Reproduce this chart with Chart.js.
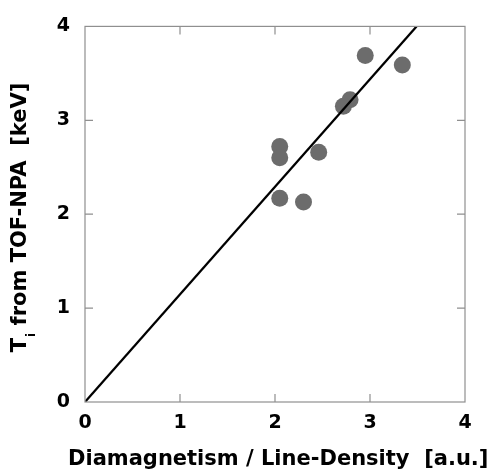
<!DOCTYPE html>
<html>
<head>
<meta charset="utf-8">
<script src="https://cdn.jsdelivr.net/npm/chart.js@4.4.1/dist/chart.umd.min.js"></script>
<style>
  html, body { margin: 0; padding: 0; background: #fff; }
  #wrap { width: 490px; height: 471px; }
</style>
</head>
<body>
<div id="wrap"><canvas id="tiChart" width="490" height="471"></canvas></div>
<script>
// measured shots: diamagnetic estimate vs. ion temperature from TOF-NPA
var diaValues = [2.95, 3.34, 2.79, 2.72, 2.05, 2.05, 2.46, 2.05, 2.30];
var tiValues  = [3.69, 3.59, 3.22, 3.15, 2.72, 2.60, 2.66, 2.17, 2.13];

// reference proportionality line
var fitX = [0, 3.49];
var fitY = [0, 4];

var axisTicks = [0, 1, 2, 3, 4];
var xTitle = 'Diamagnetism / Line-Density  [a.u.]';
var yTitleMain = 'T';
var yTitleSub = 'i';
var yTitleRest = ' from TOF-NPA  [keV]';

var FONT = '"DejaVu Sans", "Liberation Sans", Arial, sans-serif';

function toPoints(xs, ys) {
	var pts = [];
	for (var i = 0; i < xs.length; i++) {
		pts.push({ x: xs[i], y: ys[i] });
	}
	return pts;
}

// box frame with inward ticks on all four sides, plus the axis titles
var framePlugin = {
	id: 'frame',
	afterDatasetsDraw: function(chart) {
		var ctx = chart.ctx;
		var a = chart.chartArea;
		var xs = chart.scales.x, ys = chart.scales.y;
		var tl = 8;
		ctx.save();
		ctx.strokeStyle = '#8f8f8f';
		ctx.lineWidth = 1.2;
		ctx.strokeRect(a.left, a.top, a.right - a.left, a.bottom - a.top);
		ctx.beginPath();
		for (var i = 1; i < axisTicks.length - 1; i++) {
			var px = xs.getPixelForValue(axisTicks[i]);
			ctx.moveTo(px, a.bottom); ctx.lineTo(px, a.bottom - tl);
			ctx.moveTo(px, a.top); ctx.lineTo(px, a.top + tl);
			var py = ys.getPixelForValue(axisTicks[i]);
			ctx.moveTo(a.left, py); ctx.lineTo(a.left + tl, py);
			ctx.moveTo(a.right, py); ctx.lineTo(a.right - tl, py);
		}
		ctx.stroke();
		ctx.restore();
	},
	afterDraw: function(chart) {
		var ctx = chart.ctx;
		ctx.save();
		ctx.fillStyle = '#000';
		ctx.font = 'bold 21px ' + FONT;
		ctx.textBaseline = 'alphabetic';
		ctx.textAlign = 'left';
		ctx.fillText(xTitle, 68, 465);

		// rotated y title with subscript
		ctx.translate(26, 218);
		ctx.rotate(-Math.PI / 2);
		var big = 'bold 21px ' + FONT;
		var small = 'bold 12px ' + FONT;
		ctx.font = big;
		var w1 = ctx.measureText(yTitleMain).width;
		var w3 = ctx.measureText(yTitleRest).width;
		ctx.font = small;
		var w2 = ctx.measureText(yTitleSub).width;
		var x0 = -(w1 + w2 + w3) / 2;
		ctx.font = big;
		ctx.fillText(yTitleMain, x0, 0);
		ctx.font = small;
		ctx.fillText(yTitleSub, x0 + w1 + 1, 9);
		ctx.font = big;
		ctx.fillText(yTitleRest, x0 + w1 + w2 + 1, 0);
		ctx.restore();
	}
};

var tickFont = { family: FONT, size: 19, weight: 'bold' };

var chart = new Chart(document.getElementById('tiChart').getContext('2d'), {
	type: 'scatter',
	data: {
		datasets: [{
			label: 'fit',
			data: toPoints(fitX, fitY),
			showLine: true,
			borderColor: '#000',
			borderWidth: 2.2,
			pointRadius: 0,
			fill: false
		}, {
			label: 'shots',
			data: toPoints(diaValues, tiValues),
			backgroundColor: '#6c6c6c',
			borderWidth: 0,
			pointRadius: 8.5,
			pointHoverRadius: 8.5
		}]
	},
	options: {
		responsive: false,
		animation: false,
		layout: { padding: { left: 0, top: 25, right: 25, bottom: 0 } },
		plugins: {
			legend: { display: false },
			tooltip: { enabled: false }
		},
		scales: {
			x: {
				type: 'linear',
				min: 0, max: 4,
				afterFit: function(s) { s.height = 69; },
				afterBuildTicks: function(s) { s.ticks = axisTicks.map(function(v) { return { value: v }; }); },
				grid: { display: false, drawTicks: false },
				border: { display: false },
				ticks: { color: '#000', font: tickFont, padding: 10, maxRotation: 0 }
			},
			y: {
				type: 'linear',
				min: 0, max: 4,
				afterFit: function(s) { s.width = 85; },
				afterBuildTicks: function(s) { s.ticks = axisTicks.map(function(v) { return { value: v }; }); },
				grid: { display: false, drawTicks: false },
				border: { display: false },
				ticks: { color: '#000', font: tickFont, padding: 15 }
			}
		}
	},
	plugins: [framePlugin]
});
</script>
</body>
</html>
